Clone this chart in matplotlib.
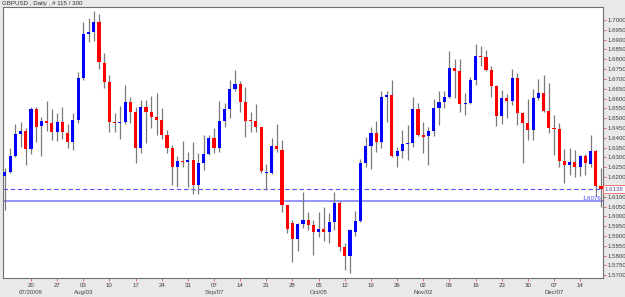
import matplotlib
matplotlib.use("Agg")
import matplotlib.pyplot as plt
import matplotlib.transforms as mtransforms
import numpy as np
import pandas as pd

# GBPUSD daily, 13 Jul 2009 .. 18 Dec 2009 (115 bars)
opens = [1.6207, 1.6225, 1.6308, 1.6420, 1.6435, 1.6343, 1.6545, 1.6460, 1.6486, 1.6476,
         1.6430, 1.6481, 1.6426, 1.6381, 1.6493, 1.6703, 1.6929, 1.6940, 1.6988, 1.6783,
         1.6686, 1.6482, 1.6476, 1.6479, 1.6581, 1.6532, 1.6350, 1.6556, 1.6530, 1.6508,
         1.6491, 1.6415, 1.6350, 1.6253, 1.6282, 1.6276, 1.6287, 1.6160, 1.6274, 1.6318,
         1.6398, 1.6350, 1.6487, 1.6545, 1.6649, 1.6673, 1.6584, 1.6491, 1.6487, 1.6454,
         1.6220, 1.6220, 1.6359, 1.6338, 1.6058, 1.5965, 1.5885, 1.5962, 1.5982, 1.5957,
         1.5919, 1.5935, 1.5919, 1.5973, 1.6070, 1.5843, 1.5799, 1.5922, 1.5978, 1.6271,
         1.6360, 1.6423, 1.6381, 1.6607, 1.6618, 1.6309, 1.6335, 1.6369, 1.6372, 1.6545,
         1.6415, 1.6410, 1.6435, 1.6551, 1.6584, 1.6610, 1.6754, 1.6740, 1.6571, 1.6576,
         1.6695, 1.6817, 1.6810, 1.6745, 1.6666, 1.6511, 1.6603, 1.6589, 1.6706, 1.6528,
         1.6474, 1.6440, 1.6604, 1.6627, 1.6538, 1.6452, 1.6447, 1.6284, 1.6262, 1.6277,
         1.6250, 1.6309, 1.6267, 1.6333, 1.6155]
highs = [1.6245, 1.6347, 1.6471, 1.6482, 1.6449, 1.6559, 1.6556, 1.6508, 1.6588, 1.6545,
         1.6525, 1.6556, 1.6469, 1.6525, 1.6737, 1.6991, 1.7009, 1.7046, 1.7031, 1.6830,
         1.6720, 1.6525, 1.6562, 1.6669, 1.6607, 1.6559, 1.6593, 1.6593, 1.6613, 1.6627,
         1.6551, 1.6440, 1.6364, 1.6308, 1.6386, 1.6330, 1.6377, 1.6322, 1.6415, 1.6415,
         1.6449, 1.6589, 1.6576, 1.6695, 1.6745, 1.6690, 1.6657, 1.6533, 1.6572, 1.6457,
         1.6267, 1.6398, 1.6471, 1.6389, 1.6060, 1.5982, 1.5968, 1.6126, 1.6024, 1.5982,
         1.6024, 1.6050, 1.6016, 1.6123, 1.6079, 1.5863, 1.5935, 1.6028, 1.6291, 1.6406,
         1.6457, 1.6487, 1.6640, 1.6640, 1.6695, 1.6355, 1.6440, 1.6466, 1.6607, 1.6579,
         1.6482, 1.6457, 1.6598, 1.6640, 1.6640, 1.6844, 1.6800, 1.6800, 1.6627, 1.6711,
         1.6878, 1.6868, 1.6847, 1.6766, 1.6669, 1.6644, 1.6623, 1.6749, 1.6732, 1.6530,
         1.6596, 1.6647, 1.6698, 1.6720, 1.6678, 1.6516, 1.6477, 1.6342, 1.6347, 1.6338,
         1.6313, 1.6318, 1.6415, 1.6338, 1.6245]
lows = [1.6033, 1.6220, 1.6304, 1.6355, 1.6262, 1.6318, 1.6381, 1.6309, 1.6435, 1.6389,
        1.6384, 1.6393, 1.6347, 1.6338, 1.6474, 1.6695, 1.6886, 1.6895, 1.6751, 1.6652,
        1.6431, 1.6431, 1.6393, 1.6471, 1.6477, 1.6274, 1.6325, 1.6375, 1.6449, 1.6415,
        1.6393, 1.6322, 1.6160, 1.6151, 1.6253, 1.6151, 1.6114, 1.6114, 1.6236, 1.6313,
        1.6322, 1.6330, 1.6454, 1.6501, 1.6640, 1.6533, 1.6406, 1.6431, 1.6428, 1.6220,
        1.6135, 1.6216, 1.6330, 1.6024, 1.5914, 1.5770, 1.5826, 1.5940, 1.5931, 1.5804,
        1.5894, 1.5877, 1.5863, 1.5931, 1.5826, 1.5728, 1.5711, 1.5901, 1.5973, 1.6250,
        1.6242, 1.6330, 1.6347, 1.6482, 1.6301, 1.6250, 1.6298, 1.6287, 1.6352, 1.6410,
        1.6325, 1.6262, 1.6410, 1.6466, 1.6551, 1.6601, 1.6601, 1.6533, 1.6516, 1.6572,
        1.6669, 1.6766, 1.6740, 1.6607, 1.6460, 1.6471, 1.6500, 1.6567, 1.6466, 1.6271,
        1.6389, 1.6389, 1.6593, 1.6533, 1.6423, 1.6313, 1.6253, 1.6169, 1.6211, 1.6202,
        1.6206, 1.6211, 1.6253, 1.6104, 1.6050]
closes = [1.6228, 1.6308, 1.6420, 1.6435, 1.6343, 1.6545, 1.6457, 1.6486, 1.6476, 1.6430,
          1.6481, 1.6428, 1.6381, 1.6493, 1.6703, 1.6929, 1.6940, 1.6988, 1.6785, 1.6686,
          1.6482, 1.6477, 1.6481, 1.6581, 1.6532, 1.6350, 1.6556, 1.6530, 1.6508, 1.6491,
          1.6415, 1.6350, 1.6253, 1.6282, 1.6277, 1.6287, 1.6160, 1.6274, 1.6318, 1.6398,
          1.6350, 1.6487, 1.6545, 1.6650, 1.6673, 1.6584, 1.6487, 1.6484, 1.6454, 1.6233,
          1.6228, 1.6359, 1.6343, 1.6058, 1.5935, 1.5885, 1.5962, 1.5982, 1.5957, 1.5919,
          1.5935, 1.5919, 1.5973, 1.6070, 1.5843, 1.5799, 1.5931, 1.5978, 1.6271, 1.6360,
          1.6423, 1.6381, 1.6607, 1.6618, 1.6309, 1.6335, 1.6369, 1.6375, 1.6545, 1.6415,
          1.6406, 1.6435, 1.6551, 1.6584, 1.6610, 1.6754, 1.6740, 1.6572, 1.6576, 1.6695,
          1.6817, 1.6810, 1.6745, 1.6666, 1.6511, 1.6603, 1.6589, 1.6706, 1.6528, 1.6477,
          1.6440, 1.6604, 1.6627, 1.6538, 1.6449, 1.6447, 1.6284, 1.6262, 1.6277, 1.6250,
          1.6309, 1.6271, 1.6333, 1.6155, 1.6138]

bid_price = 1.6138
level_price = 1.6076
title = "GBPUSD , Daily , # 115 / 300"

dates = pd.bdate_range("2009-07-13", periods=len(opens))

UP = "#0000ff"
DOWN = "#ff0000"
WICK = "#7a7a7a"
GREY_TXT = "#404040"
FS = 4.4

plt.rcParams["font.family"] = ["Liberation Sans Narrow", "Liberation Sans", "DejaVu Sans"]

fig = plt.figure(figsize=(6.25, 2.97), dpi=100, facecolor="#e9e9e9")
ax = fig.add_axes([0.004, 0.065, 0.9608, 0.9125], facecolor="white")

o = np.array(opens)
c = np.array(closes)
x = np.arange(len(o))
up = c >= o
body_bot = np.minimum(o, c)
body_h = np.maximum(np.abs(c - o), 0.0005)  # dojis still get a 1px body

ax.vlines(x, lows, highs, color=WICK, lw=0.9, zorder=2)
ax.bar(x, body_h, bottom=body_bot, width=0.6,
       color=np.where(up, UP, DOWN), linewidth=0, zorder=3)

# price lines
ax.axhline(level_price, color="#8c8cff", lw=1.3, zorder=1)
ax.axhline(bid_price, color="#5050ff", lw=0.8, ls=(0, (4, 2.5)), zorder=1)
ax.text(0.998, level_price + 0.0003, "%.4f" % level_price, color="#4848ff",
        fontsize=FS, ha="right", va="bottom",
        transform=mtransforms.blended_transform_factory(ax.transAxes, ax.transData))

ax.set_xlim(-0.45, 114.37)
ax.set_ylim(1.56877, 1.70677)

# y axis on the right
yt = np.arange(1.5700, 1.70001, 0.005)
ax.yaxis.tick_right()
ax.set_yticks(yt)
ax.set_yticklabels(["%.4f" % v for v in yt])
ax.tick_params(axis="y", direction="out", length=2.5, width=0.6, color="#e05050",
               labelsize=FS, labelcolor=GREY_TXT, pad=0.8)

# x axis: Mondays, month label under first Monday of month
mondays = [i for i, d in enumerate(dates) if d.weekday() == 0 and i > 0]
labels = []
seen = set()
for i in mondays:
    d = dates[i]
    lab = d.strftime("%d")
    if d.month not in seen:
        seen.add(d.month)
        lab += "\n" + (d.strftime("%m/%d/%y") if len(seen) == 1 else d.strftime("%b/%d"))
    labels.append(lab)
ax.set_xticks(mondays)
ax.set_xticklabels(labels, linespacing=1.5)
ax.tick_params(axis="x", direction="out", length=2.5, width=0.6, color="#e05050",
               labelsize=FS, labelcolor=GREY_TXT, pad=1.5)

for s in ax.spines.values():
    s.set_color("#707070")
    s.set_linewidth(0.8)

# current bid label in a red box
ax.text(1.003, bid_price, "%.4f" % bid_price, color="#5050a0", fontsize=FS,
        ha="left", va="center",
        transform=mtransforms.blended_transform_factory(ax.transAxes, ax.transData),
        bbox=dict(boxstyle="square,pad=0.25", fc="white", ec="#ff6060", lw=0.6),
        zorder=5, clip_on=False)

fig.text(0.003, 0.995, title, fontsize=FS, color="#303030", ha="left", va="top")

fig.savefig("out.png", dpi=100, facecolor=fig.get_facecolor())
